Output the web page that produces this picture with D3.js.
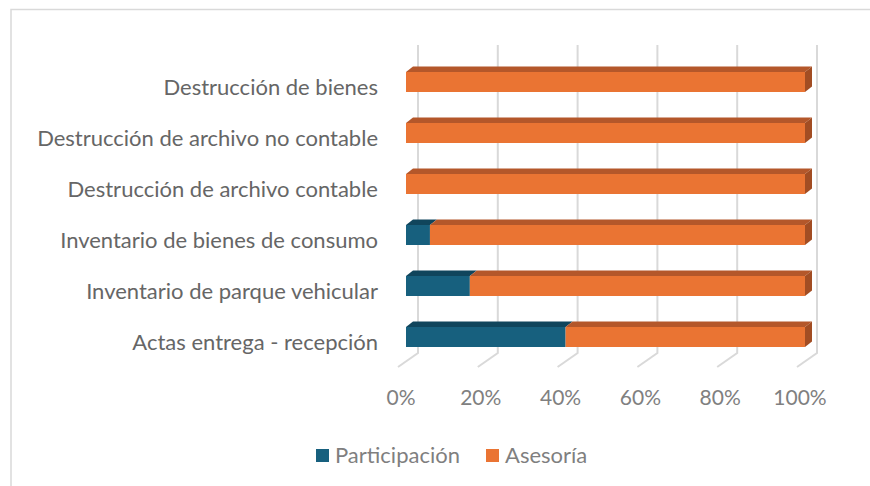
<!DOCTYPE html>
<html>
<head>
<meta charset="utf-8">
<script src="https://cdn.jsdelivr.net/npm/d3@7"></script>
<style>
  body { margin: 0; background: #fff; }
  svg { display: block; font-family: Lato, "Open Sans", sans-serif; }
</style>
</head>
<body>
<div id="chart"></div>
<script>
// categories, top to bottom as drawn
const categories = [
  'Destrucción de bienes',
  'Destrucción de archivo no contable',
  'Destrucción de archivo contable',
  'Inventario de bienes de consumo',
  'Inventario de parque vehicular',
  'Actas entrega - recepción'
];
const seriesNames = ['Participación', 'Asesoría'];
// percent shares (100% stacked)
const participacion = [0, 0, 0, 6, 16, 40];
const asesoria = [100, 100, 100, 94, 84, 60];
const tickValues = [0, 20, 40, 60, 80, 100];

const colors = {
  'Participación': { front: '#17607e', top: '#10455c', side: '#0e3d52' },
  'Asesoría': { front: '#ea7433', top: '#b4572a', side: '#a24d23' }
};

const width = 870, height = 486;
const svg = d3.select('#chart').append('svg')
  .attr('width', width)
  .attr('height', height);

// chart frame
svg.append('rect')
  .attr('x', 11).attr('y', 9.5)
  .attr('width', 880).attr('height', 500)
  .attr('fill', 'none')
  .attr('stroke', '#d9d9d9')
  .attr('stroke-width', 1.5);

const x = d3.scaleLinear().domain([0, 100]).range([406, 805]);
// step 51, bar 20 high
const y = d3.scaleBand().domain(categories).range([41, 378]).padding(0.608);

// 3d offsets
const wallDx = 12, floorY = 353, floorDx = 20, floorDy = 14;
const barDx = 7, barDy = -5.5;

// back wall gridlines + floor ticks
const grid = svg.append('g');
tickValues.forEach(v => {
  const xb = x(v) + wallDx;
  grid.append('path')
    .attr('d', `M${xb},45 L${xb},${floorY} L${xb - floorDx},${floorY + floorDy}`)
    .attr('fill', 'none')
    .attr('stroke', '#d9d9d9')
    .attr('stroke-width', 2);
});

// tick labels
svg.append('g')
  .selectAll('text')
  .data(tickValues)
  .join('text')
  .attr('x', d => x(d) - 5)
  .attr('y', 405)
  .attr('text-anchor', 'middle')
  .attr('font-size', 21)
  .attr('fill', '#808080')
  .text(d => d + '%');

// stacked data
const rows = categories.map((c, i) => ({ cat: c, 'Participación': participacion[i], 'Asesoría': asesoria[i] }));
const stacked = d3.stack().keys(seriesNames)(rows);

const bars = svg.append('g');
stacked.forEach(layer => {
  const col = colors[layer.key];
  layer.forEach(seg => {
    const v0 = seg[0], v1 = seg[1];
    if (v1 - v0 <= 0) return;
    const x0 = x(v0), x1 = x(v1);
    const yt = y(seg.data.cat), h = y.bandwidth();
    // top face
    bars.append('path')
      .attr('d', `M${x0},${yt} L${x0 + barDx},${yt + barDy} L${x1 + barDx},${yt + barDy} L${x1},${yt} Z`)
      .attr('fill', col.top);
    // right side (only visible at end)
    if (v1 >= 100) {
      bars.append('path')
        .attr('d', `M${x1},${yt} L${x1 + barDx},${yt + barDy} L${x1 + barDx},${yt + h + barDy} L${x1},${yt + h} Z`)
        .attr('fill', col.side);
    }
    // front face
    bars.append('rect')
      .attr('x', x0).attr('y', yt)
      .attr('width', x1 - x0).attr('height', h)
      .attr('fill', col.front);
  });
});

// category labels
svg.append('g')
  .selectAll('text')
  .data(categories)
  .join('text')
  .attr('x', 378)
  .attr('y', d => y(d) + y.bandwidth() / 2 + 7)
  .attr('text-anchor', 'end')
  .attr('dominant-baseline', 'middle')
  .attr('font-size', 22)
  .attr('fill', '#666666')
  .text(d => d);

// legend
const legendX = [316, 486];
const legend = svg.append('g');
seriesNames.forEach((s, i) => {
  legend.append('rect')
    .attr('x', legendX[i]).attr('y', 449)
    .attr('width', 13).attr('height', 13)
    .attr('fill', colors[s].front);
  legend.append('text')
    .attr('x', legendX[i] + 19)
    .attr('y', 463)
    .attr('font-size', 22)
    .attr('fill', '#7f7f7f')
    .text(s);
});
</script>
</body>
</html>
